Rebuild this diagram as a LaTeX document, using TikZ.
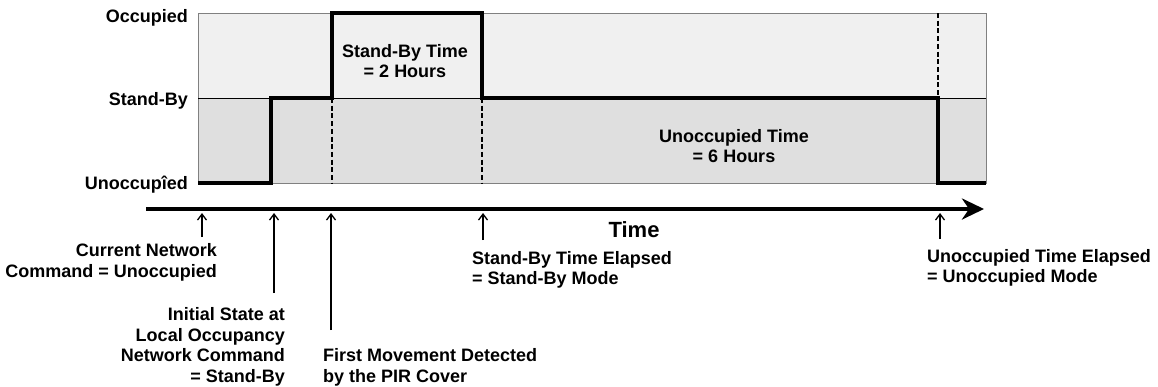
\documentclass[tikz,border=0pt]{standalone}
\usepackage{fontspec}
\setmainfont{Liberation Sans}
\usetikzlibrary{arrows.meta}
\begin{document}
\begin{tikzpicture}[x=1pt,y=-1pt,
  every node/.style={font=\bfseries\fontsize{18}{20.5}\selectfont,inner sep=0pt},
  level/.style={anchor=base east},
  signal/.style={line width=3.4pt,line join=miter},
  marker/.style={line width=2.5pt,dash pattern=on 5pt off 2.7pt},
  pointer/.style={line width=1.3pt,-{Straight Barb[length=6pt,width=9pt]}},
  note/.style={anchor=north,align=center}]
\useasboundingbox (0,0) rectangle (1158,386);
% chart bands
\fill[gray!12] (198,13) rectangle (986,98);
\fill[gray!25] (198,98) rectangle (986,183);
\draw[gray] (198,13) rectangle (986,183);
\draw (198,98) -- (986,98);
\draw[marker] (332,98) -- (332,183);
\draw[marker] (482,98) -- (482,183);
\draw[marker] (938,13) -- (938,98);
% state signal
\draw[signal] (198,183) -- (271,183) -- (271,98) -- (332,98) -- (332,13) -- (482,13)
  -- (482,98) -- (938,98) -- (938,183) -- (986,183);
\node[level] (occ) at (188,22) {Occupied};
\node[level] (stb) at (188,105) {Stand-By};
\node[level] (unocc) at (188,189) {Unoccupîed};
\node[note] (sbt) at (405,44) {Stand-By Time\\= 2 Hours};
\node[note] (uot) at (734,129) {Unoccupied Time\\= 6 Hours};
% time axis
\coordinate (t0) at (146,209);
\coordinate (t1) at (984,209);
\draw[line width=4.5pt,-{Stealth[length=22pt,width=21pt,inset=7pt]}] (t0) -- (t1);
\node[anchor=base,font=\bfseries\fontsize{22}{24}\selectfont] (time) at (634,237) {Time};
% events
\foreach \x/\y [count=\i] in {202/237,274/293,331/330,483/240,940/239}{
  \coordinate (a\i) at (\x,\y);
  \coordinate (b\i) at (\x,213);
  \draw[pointer] (a\i) -- (b\i);
}
\node[anchor=north east,align=right] (cmd) at (217,243.5) {Current Network\\Command = Unoccupied};
\node[anchor=north east,align=right] (init) at (285,307.5) {Initial State at\\Local Occupancy\\Network Command\\= Stand-By};
\node[anchor=north west,align=left] (move) at (323,348.5) {First Movement Detected\\by the PIR Cover};
\node[anchor=north west,align=left] (sbe) at (472,251) {Stand-By Time Elapsed\\= Stand-By Mode};
\node[anchor=north west,align=left] (uoe) at (927,249) {Unoccupied Time Elapsed\\= Unoccupied Mode};
\end{tikzpicture}
\end{document}
